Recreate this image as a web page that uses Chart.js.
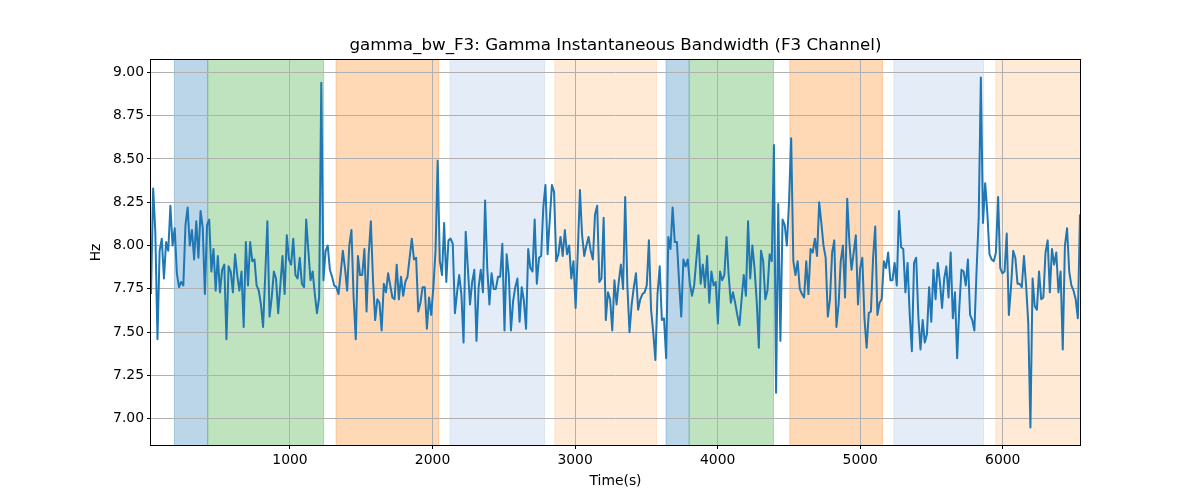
<!DOCTYPE html>
<html>
<head>
<meta charset="utf-8">
<script src="https://cdn.jsdelivr.net/npm/chart.js@4.4.0/dist/chart.umd.min.js"></script>
<style>html,body{margin:0;padding:0;background:#fff;}canvas{display:block;}</style>
</head>
<body>
<canvas id="c" width="1200" height="500"></canvas>
<script>
const chartTitle = 'gamma_bw_F3: Gamma Instantaneous Bandwidth (F3 Channel)';
const xLabel = 'Time(s)';
const yLabel = 'Hz';

// sampling grid of the series (seconds)
const tStart = 25;
const tStep = 15.12;

// gamma bandwidth values (Hz)
const hz = [
7.72, 8.33, 8.08, 7.46, 7.97, 8.04, 7.81, 8.02, 7.97, 8.23,
8.00, 8.10, 7.84, 7.76, 7.79, 7.77, 8.12, 8.22, 8.00, 8.09,
7.92, 8.14, 7.93, 8.20, 8.10, 7.72, 8.12, 8.15, 7.85, 7.98,
7.74, 7.94, 7.73, 7.86, 7.89, 7.46, 7.88, 7.85, 7.73, 7.95,
7.83, 7.74, 7.85, 7.53, 8.02, 7.77, 8.02, 7.91, 7.92, 7.77,
7.74, 7.66, 7.53, 7.83, 8.14, 7.59, 7.70, 7.85, 7.81, 7.61,
7.77, 7.94, 7.72, 8.06, 7.92, 7.89, 8.04, 7.83, 7.81, 7.93,
7.78, 7.76, 8.15, 7.97, 7.80, 7.85, 7.72, 7.61, 7.70, 8.94,
7.80, 7.97, 8.00, 7.86, 7.82, 7.77, 7.76, 7.72, 7.84, 7.97,
7.87, 7.74, 8.00, 8.09, 7.70, 7.46, 7.94, 7.83, 7.83, 7.98,
7.62, 7.95, 8.14, 7.80, 7.57, 7.69, 7.67, 7.51, 7.78, 7.73,
7.84, 7.77, 7.70, 7.69, 7.89, 7.69, 7.82, 7.71, 7.79, 7.82,
7.93, 8.04, 7.92, 7.93, 7.62, 7.67, 7.76, 7.76, 7.52, 7.70,
7.60, 7.76, 7.97, 8.49, 7.91, 7.83, 8.13, 7.79, 8.03, 8.04,
8.01, 7.61, 7.73, 7.83, 7.72, 7.44, 8.08, 7.87, 7.66, 7.79,
7.86, 7.45, 7.76, 7.86, 7.73, 8.26, 7.87, 7.66, 7.84, 7.75,
7.75, 7.82, 7.82, 8.01, 7.51, 7.95, 7.83, 7.51, 7.68, 7.76,
7.81, 7.56, 7.76, 7.68, 7.52, 7.98, 7.87, 7.85, 8.15, 7.78,
7.93, 7.94, 8.22, 8.35, 7.95, 8.15, 8.35, 8.31, 7.91, 7.95,
8.05, 7.94, 8.09, 7.95, 8.00, 7.81, 7.91, 7.64, 7.96, 8.32,
8.06, 7.94, 8.00, 8.05, 7.97, 7.92, 8.18, 8.23, 7.79, 7.81,
8.16, 7.57, 7.73, 7.69, 7.51, 7.80, 7.66, 7.79, 7.89, 7.75,
8.28, 7.77, 7.50, 7.66, 7.76, 7.84, 7.63, 7.69, 7.72, 7.73,
7.77, 8.03, 7.63, 7.50, 7.34, 7.72, 7.88, 7.57, 7.58, 7.35,
8.05, 7.98, 8.22, 8.02, 8.02, 7.79, 7.59, 7.92, 7.88, 7.92,
7.78, 7.71, 7.77, 7.92, 8.06, 7.78, 7.89, 7.76, 7.94, 7.67,
7.85, 7.77, 7.79, 7.55, 7.85, 7.80, 7.83, 8.05, 7.83, 7.67,
7.73, 7.67, 7.60, 7.54, 7.69, 7.83, 7.71, 8.14, 7.81, 8.00,
7.87, 7.68, 7.41, 7.97, 7.91, 7.69, 7.74, 7.95, 7.91, 8.58,
7.15, 8.24, 7.45, 8.15, 8.12, 8.00, 8.25, 8.62, 7.91, 7.83,
7.91, 7.75, 7.72, 7.70, 7.91, 7.72, 7.98, 7.96, 8.04, 7.94,
8.25, 8.13, 8.00, 7.93, 7.59, 7.69, 7.96, 8.03, 7.53, 7.66,
7.91, 8.00, 7.70, 8.27, 8.02, 7.86, 7.96, 8.06, 7.66, 7.87,
7.93, 7.58, 7.41, 7.61, 7.62, 7.93, 8.11, 7.60, 7.67, 7.69,
7.91, 7.87, 7.96, 7.80, 7.80, 7.90, 7.77, 8.20, 7.99, 7.98,
7.73, 7.90, 7.60, 7.39, 7.90, 7.93, 7.59, 7.40, 7.57, 7.44,
7.49, 7.76, 7.56, 7.86, 7.69, 7.90, 7.79, 7.64, 7.81, 7.88,
7.70, 7.96, 7.58, 7.73, 7.35, 7.64, 7.86, 7.85, 7.77, 7.92,
7.60, 7.57, 7.51, 7.85, 8.16, 8.97, 8.13, 8.36, 8.19, 7.95,
7.92, 7.91, 7.96, 8.28, 7.87, 7.84, 7.85, 8.07, 7.60, 7.76,
7.97, 7.93, 7.78, 7.78, 7.76, 7.94, 7.77, 7.55, 6.95, 7.81,
7.65, 7.63, 7.85, 7.69, 7.70, 7.96, 8.03, 7.73, 7.98, 7.89,
7.96, 7.73, 7.85, 7.40, 8.00, 8.10, 7.85, 7.77, 7.74, 7.69,
7.58, 8.18
];

const xTicks = [1000, 2000, 3000, 4000, 5000, 6000];
const yTicks = [7.00, 7.25, 7.50, 7.75, 8.00, 8.25, 8.50, 8.75, 9.00];
const yMin = 6.849;
const yMax = 9.071;

// shaded phases
const spanStarts = [189, 423, 1323, 2122, 2858, 3638, 3800, 4506, 5236, 5951];
const spanEnds   = [423, 1236, 2043, 2786, 3571, 3800, 4392, 5156, 5865, 6560];
const spanKinds  = ['blue', 'green', 'orange', 'lightblue', 'lightorange',
                    'blue', 'green', 'orange', 'lightblue', 'lightorange'];
const spanColors = {
  blue: 'rgba(31,119,180,0.3)',
  green: 'rgba(44,160,44,0.3)',
  orange: 'rgba(255,127,14,0.3)',
  lightblue: 'rgba(174,199,232,0.33)',
  lightorange: 'rgba(255,187,120,0.3)'
};

const points = hz.map((v, i) => ({ x: tStart + i * tStep, y: v }));
const tEnd = tStart + (hz.length - 1) * tStep;

const FONT = 'DejaVu Sans';
const tickFont = { family: FONT, size: 13.9 };

const spanPlugin = {
  id: 'spans',
  beforeDraw(chart) {
    const { ctx, chartArea: a, scales: { x } } = chart;
    ctx.save();
    ctx.beginPath();
    ctx.rect(a.left, a.top, a.right - a.left, a.bottom - a.top);
    ctx.clip();
    for (let k = 0; k < spanStarts.length; k++) {
      const x0 = x.getPixelForValue(spanStarts[k]);
      const x1 = x.getPixelForValue(spanEnds[k]);
      const c = spanColors[spanKinds[k]];
      ctx.fillStyle = c;
      ctx.fillRect(x0, a.top, x1 - x0, a.bottom - a.top);
      ctx.strokeStyle = c;
      ctx.lineWidth = 1;
      ctx.beginPath();
      ctx.moveTo(x0, a.top); ctx.lineTo(x0, a.bottom);
      ctx.moveTo(x1, a.top); ctx.lineTo(x1, a.bottom);
      ctx.stroke();
    }
    ctx.restore();
  }
};

const framePlugin = {
  id: 'frame',
  afterDraw(chart) {
    const { ctx, chartArea: a } = chart;
    ctx.save();
    ctx.strokeStyle = '#000';
    ctx.lineWidth = 1;
    ctx.strokeRect(Math.round(a.left) - 0.5, Math.round(a.top) - 0.5,
                   Math.round(a.right - a.left) + 1, Math.round(a.bottom - a.top) + 1);
    // title centred over the plotting area
    ctx.fillStyle = '#000';
    ctx.font = '16.7px "DejaVu Sans"';
    ctx.textAlign = 'center';
    ctx.textBaseline = 'middle';
    ctx.fillText(chartTitle, (a.left + a.right) / 2, 46);
    ctx.restore();
  }
};

new Chart(document.getElementById('c').getContext('2d'), {
  type: 'line',
  data: {
    datasets: [{
      data: points,
      borderColor: '#1f77b4',
      borderWidth: 2,
      borderJoinStyle: 'round',
      pointRadius: 0,
      tension: 0,
      fill: false
    }]
  },
  options: {
    responsive: false,
    animation: false,
    devicePixelRatio: 1,
    layout: { padding: { left: 0, right: 120, top: 60, bottom: 0 } },
    plugins: {
      legend: { display: false },
      tooltip: { enabled: false },
      title: { display: false }
    },
    scales: {
      x: {
        type: 'linear',
        min: tStart,
        max: tEnd,
        afterBuildTicks: s => { s.ticks = xTicks.map(v => ({ value: v })); },
        afterFit: s => { s.height = 55; },
        ticks: { font: tickFont, color: '#000', padding: 3, maxRotation: 0, autoSkip: false,
                 callback: v => String(v) },
        grid: { color: '#b0b0b0', lineWidth: 1, tickColor: '#000', tickLength: 4, drawTicks: true },
        border: { display: false },
        title: { display: true, text: xLabel, color: '#000', font: tickFont,
                 padding: { top: 0, bottom: 10.5 } }
      },
      y: {
        type: 'linear',
        min: yMin,
        max: yMax,
        afterBuildTicks: s => { s.ticks = yTicks.map(v => ({ value: v })); },
        afterFit: s => { s.width = 151; },
        ticks: { font: tickFont, color: '#000', padding: 3, autoSkip: false,
                 callback: v => Number(v).toFixed(2) },
        grid: { color: '#b0b0b0', lineWidth: 1, tickColor: '#000', tickLength: 4, drawTicks: true },
        border: { display: false },
        title: { display: true, text: yLabel, color: '#000', font: tickFont,
                 padding: { top: 88.5, bottom: 0 } }
      }
    }
  },
  plugins: [spanPlugin, framePlugin]
});
</script>
</body>
</html>
